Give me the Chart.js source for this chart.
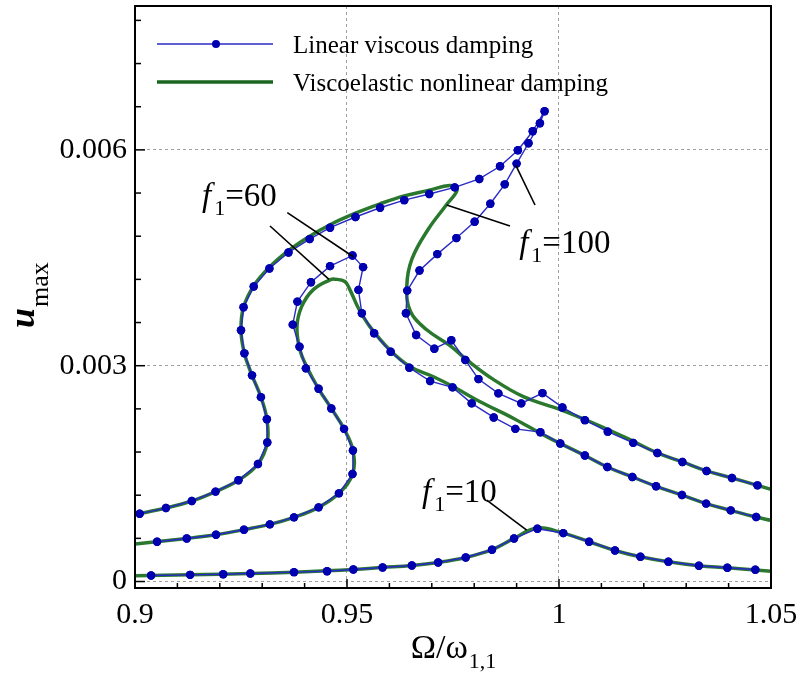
<!DOCTYPE html>
<html>
<head>
<meta charset="utf-8">
<script src="https://cdn.jsdelivr.net/npm/chart.js@4.4.1/dist/chart.umd.min.js"></script>
<style>
html, body { margin: 0; padding: 0; background: #fff; }
#c { display: block; }
</style>
</head>
<body>
<canvas id="c" width="801" height="679"></canvas>
<script>
"use strict"

// ---- data ----
const xTickValues = [0.9, 0.95, 1, 1.05];
const xTickLabels = ["0.9", "0.95", "1", "1.05"];
const yTickValues = [0, 0.003, 0.006];
const yTickLabels = ["0", "0.003", "0.006"];

const seriesNames = ["Linear viscous damping", "Viscoelastic nonlinear damping"];

// linear viscous damping (dots)
const blue10X = [0.9038, 0.9130, 0.9208, 0.9272, 0.9375, 0.9453, 0.9515, 0.9584, 0.9653, 0.9715, 0.9780, 0.9842, 0.9894, 0.9949, 1.0010, 1.0071, 1.0132, 1.0192, 1.0258, 1.0330, 1.0397, 1.0463];
const blue10Y = [0.000084, 0.000093, 0.000102, 0.000111, 0.000130, 0.000143, 0.000167, 0.000195, 0.000223, 0.000265, 0.000334, 0.000442, 0.000599, 0.000734, 0.000673, 0.000553, 0.000432, 0.000344, 0.000274, 0.000219, 0.000191, 0.000163];

const blue60X = [0.9052, 0.9122, 0.9191, 0.9257, 0.9318, 0.9375, 0.9433, 0.9481, 0.9513, 0.9514, 0.9493, 0.9463, 0.9433, 0.9403, 0.9388, 0.9372, 0.9383, 0.9415, 0.9460, 0.9513, 0.9538, 0.9527, 0.9535, 0.9564, 0.9603, 0.9647, 0.9696, 0.9749, 0.9794, 0.9846, 0.9897, 0.9956, 1.0003, 1.0061, 1.0114, 1.0173, 1.0229, 1.0290, 1.0347, 1.0405, 1.0465];
const blue60Y = [0.000553, 0.000599, 0.000651, 0.000720, 0.000794, 0.000892, 0.001031, 0.001226, 0.001495, 0.001821, 0.002122, 0.002406, 0.002679, 0.002963, 0.003264, 0.003571, 0.003891, 0.004161, 0.004384, 0.004532, 0.004370, 0.004054, 0.003729, 0.003451, 0.003194, 0.002972, 0.002786, 0.002699, 0.002476, 0.002281, 0.002122, 0.002076, 0.001918, 0.001751, 0.001592, 0.001453, 0.001324, 0.001202, 0.001083, 0.000989, 0.000896];

const blue100X = [0.9011, 0.9073, 0.9134, 0.9190, 0.9244, 0.9290, 0.9312, 0.9311, 0.9297, 0.9276, 0.9258, 0.9250, 0.9256, 0.9280, 0.9317, 0.9362, 0.9412, 0.9460, 0.9520, 0.9578, 0.9635, 0.9694, 0.9754, 0.9812, 0.9861, 0.9903, 0.9938, 0.9966, 0.9955, 0.9928, 0.9900, 0.9872, 0.9838, 0.9801, 0.9758, 0.9713, 0.9671, 0.9642, 0.9639, 0.9663, 0.9706, 0.9746, 0.9779, 0.9810, 0.9857, 0.9911, 0.9961, 1.0008, 1.0061, 1.0115, 1.0175, 1.0232, 1.0291, 1.0348, 1.0408, 1.0468];
const blue100Y = [0.000943, 0.001021, 0.001119, 0.001250, 0.001407, 0.001634, 0.001932, 0.002257, 0.002563, 0.002866, 0.003172, 0.003493, 0.003813, 0.004100, 0.004351, 0.004574, 0.004760, 0.004918, 0.005067, 0.005196, 0.005301, 0.005387, 0.005479, 0.005596, 0.005772, 0.005995, 0.006259, 0.006538, 0.006371, 0.006092, 0.005809, 0.005521, 0.005252, 0.005001, 0.004774, 0.004551, 0.004323, 0.004044, 0.003729, 0.003427, 0.003236, 0.003353, 0.003079, 0.002814, 0.002615, 0.002476, 0.002619, 0.002420, 0.002243, 0.002083, 0.001927, 0.001787, 0.001662, 0.001537, 0.001439, 0.001337];

// viscoelastic nonlinear damping (smooth lines)
const green10X = [0.9000, 0.9130, 0.9272, 0.9375, 0.9515, 0.9584, 0.9653, 0.9715, 0.9780, 0.9842, 0.9894, 0.9948, 1.0010, 1.0071, 1.0132, 1.0192, 1.0258, 1.0330, 1.0397, 1.0500];
const green10Y = [0.000080, 0.000093, 0.000111, 0.000130, 0.000167, 0.000195, 0.000223, 0.000265, 0.000334, 0.000442, 0.000599, 0.000745, 0.000673, 0.000553, 0.000432, 0.000344, 0.000274, 0.000219, 0.000191, 0.000143];

const green60X = [0.9000, 0.9122, 0.9191, 0.9257, 0.9318, 0.9375, 0.9433, 0.9481, 0.9513, 0.9514, 0.9493, 0.9463, 0.9433, 0.9405, 0.9389, 0.9382, 0.9393, 0.9420, 0.9460, 0.9471, 0.9495, 0.9507, 0.9527, 0.9554, 0.9601, 0.9649, 0.9704, 0.9751, 0.9814, 0.9893, 0.9972, 1.0061, 1.0114, 1.0173, 1.0229, 1.0290, 1.0347, 1.0405, 1.0465, 1.0500];
const green60Y = [0.000520, 0.000599, 0.000651, 0.000720, 0.000794, 0.000892, 0.001031, 0.001226, 0.001495, 0.001821, 0.002122, 0.002406, 0.002679, 0.002986, 0.003218, 0.003543, 0.003821, 0.004054, 0.004193, 0.004203, 0.004170, 0.004054, 0.003799, 0.003543, 0.003218, 0.002986, 0.002846, 0.002707, 0.002498, 0.002267, 0.002010, 0.001751, 0.001592, 0.001453, 0.001324, 0.001202, 0.001083, 0.000989, 0.000896, 0.000850];

const green100X = [0.9000, 0.9073, 0.9134, 0.9190, 0.9244, 0.9290, 0.9312, 0.9311, 0.9297, 0.9276, 0.9258, 0.9250, 0.9256, 0.9280, 0.9317, 0.9362, 0.9412, 0.9460, 0.9520, 0.9578, 0.9635, 0.9694, 0.9742, 0.9760, 0.9735, 0.9692, 0.9653, 0.9641, 0.9650, 0.9688, 0.9743, 0.9783, 0.9845, 0.9916, 1.0003, 1.0082, 1.0161, 1.0232, 1.0291, 1.0348, 1.0408, 1.0468, 1.0500];
const green100Y = [0.000930, 0.001021, 0.001119, 0.001250, 0.001407, 0.001634, 0.001932, 0.002257, 0.002563, 0.002866, 0.003172, 0.003493, 0.003813, 0.004110, 0.004370, 0.004600, 0.004800, 0.004960, 0.005120, 0.005250, 0.005360, 0.005440, 0.005505, 0.005450, 0.005240, 0.004900, 0.004480, 0.004100, 0.003750, 0.003500, 0.003280, 0.003080, 0.002810, 0.002570, 0.002390, 0.002200, 0.001990, 0.001787, 0.001662, 0.001537, 0.001439, 0.001337, 0.001282];

// f1 labels and their leader lines (data coordinates)
const forceLabels = ["60", "100", "10"];
const forceLabelX = [0.9158, 0.9906, 0.9677];
const forceLabelY = [0.005220, 0.004566, 0.001109];
const leaderX1 = [0.93592, 0.93184, 0.98844, 0.99434, 0.98295];
const leaderY1 = [0.005127, 0.004942, 0.004942, 0.005234, 0.001133];
const leaderX2 = [0.95149, 0.94575, 0.97351, 0.98979, 0.99238];
const leaderY2 = [0.004515, 0.004201, 0.005234, 0.005789, 0.000716];

// ---- styles ----
const SERIF = "'Liberation Serif', 'Times New Roman', serif";
const BLUE_LINE = "#2a2ac4";
const BLUE_DOT = "#0000b0";
const GREEN = "#2a782e";

function pts(xs, ys) {
    return xs.map((x, i) => ({ x: x, y: ys[i] }));
}

function blueSet(xs, ys) {
    return {
        data: pts(xs, ys),
        showLine: true,
        borderColor: BLUE_LINE,
        borderWidth: 1.4,
        tension: 0,
        pointRadius: 4.2,
        pointBackgroundColor: BLUE_DOT,
        pointBorderWidth: 0
    };
}

function greenSet(xs, ys) {
    return {
        data: pts(xs, ys),
        showLine: true,
        borderColor: GREEN,
        borderWidth: 3.5,
        tension: 0.4,
        pointRadius: 0
    };
}

function line(ctx, x1, y1, x2, y2) {
    ctx.beginPath();
    ctx.moveTo(x1, y1);
    ctx.lineTo(x2, y2);
    ctx.stroke();
}

const decor = {
    id: "decor",
    afterDatasetsDraw(chart) {
        // dots drawn again so they sit above the green curves
        const ctx = chart.ctx;
        for (let d = 0; d < 3; d++) {
            chart.getDatasetMeta(d).data.forEach(p => p.draw(ctx, chart.chartArea));
        }
    },
    afterDraw(chart) {
        const ctx = chart.ctx;
        const a = chart.chartArea;
        const sx = chart.scales.x, sy = chart.scales.y;
        ctx.save();

        // inward ticks
        ctx.strokeStyle = "#000";
        ctx.lineWidth = 1.5;
        for (let i = 1; i < 15; i++) {
            const px = sx.getPixelForValue(0.9 + i * 0.01);
            line(ctx, px, a.bottom, px, a.bottom - (i % 5 === 0 ? 9 : 5));
        }
        for (let i = 0; i <= 13; i++) {
            const py = sy.getPixelForValue(i * 0.0006);
            line(ctx, a.left, py, a.left + (i % 5 === 0 ? 10 : 6), py);
        }

        // frame
        ctx.lineWidth = 2;
        ctx.strokeRect(a.left, a.top, a.right - a.left, a.bottom - a.top);

        // leader lines
        ctx.lineWidth = 1.6;
        for (let i = 0; i < leaderX1.length; i++) {
            line(ctx, sx.getPixelForValue(leaderX1[i]), sy.getPixelForValue(leaderY1[i]),
                 sx.getPixelForValue(leaderX2[i]), sy.getPixelForValue(leaderY2[i]));
        }

        // f1 labels
        ctx.fillStyle = "#000";
        ctx.textBaseline = "alphabetic";
        ctx.textAlign = "left";
        for (let i = 0; i < forceLabels.length; i++) {
            let x = sx.getPixelForValue(forceLabelX[i]);
            const y = sy.getPixelForValue(forceLabelY[i]);
            ctx.font = "italic 33px " + SERIF;
            ctx.fillText("f", x, y);
            x += ctx.measureText("f").width + 3;
            ctx.font = "22px " + SERIF;
            ctx.fillText("1", x, y + 9);
            x += ctx.measureText("1").width;
            ctx.font = "33px " + SERIF;
            ctx.fillText("=" + forceLabels[i], x, y);
        }

        // x title: Ω/ω_{1,1}
        ctx.font = "34px " + SERIF;
        const mainW = ctx.measureText("Ω/ω").width;
        ctx.font = "22px " + SERIF;
        const subW = ctx.measureText("1,1").width;
        let tx = (a.left + a.right) / 2 - (mainW + subW) / 2;
        ctx.font = "34px " + SERIF;
        ctx.fillText("Ω/ω", tx, 658);
        ctx.font = "22px " + SERIF;
        ctx.fillText("1,1", tx + mainW + 1, 668);

        // y title: u_max, rotated
        ctx.save();
        ctx.translate(34, 328);
        ctx.rotate(-Math.PI / 2);
        ctx.font = "italic bold 36px " + SERIF;
        ctx.fillText("u", 0, 0);
        const uW = ctx.measureText("u").width;
        ctx.font = "26px " + SERIF;
        ctx.fillText("max", uW + 1, 14);
        ctx.restore();

        // legend
        ctx.strokeStyle = BLUE_LINE;
        ctx.lineWidth = 1.4;
        line(ctx, 157, 44, 273, 44);
        ctx.fillStyle = BLUE_DOT;
        ctx.beginPath();
        ctx.arc(216, 44, 4, 0, Math.PI * 2);
        ctx.fill();
        ctx.strokeStyle = "#1a661e";
        ctx.lineWidth = 3.5;
        line(ctx, 157, 82, 273, 82);
        ctx.fillStyle = "#000";
        ctx.font = "25px " + SERIF;
        ctx.fillText(seriesNames[0], 293, 53);
        ctx.fillText(seriesNames[1], 293, 91);

        ctx.restore();
    }
};

new Chart(document.getElementById("c"), {
    type: "scatter",
    data: {
        datasets: [
            blueSet(blue10X, blue10Y),
            blueSet(blue60X, blue60Y),
            blueSet(blue100X, blue100Y),
            greenSet(green10X, green10Y),
            greenSet(green60X, green60Y),
            greenSet(green100X, green100Y)
        ]
    },
    options: {
        responsive: false,
        animation: false,
        events: [],
        layout: { padding: { left: 0, top: 6, right: 30, bottom: 0 } },
        plugins: { legend: { display: false }, tooltip: { enabled: false } },
        scales: {
            x: {
                type: "linear",
                min: 0.9,
                max: 1.05,
                afterBuildTicks: s => { s.ticks = xTickValues.map(v => ({ value: v })); },
                afterFit: s => { s.height = 91; s.paddingLeft = 0; s.paddingRight = 0; },
                ticks: {
                    callback: (v, i) => xTickLabels[i],
                    font: { family: SERIF, size: 30 },
                    color: "#000",
                    padding: 9,
                    maxRotation: 0
                },
                grid: {
                    drawTicks: false,
                    color: c => (c.tick && (c.tick.value === 0.9 || c.tick.value === 1.05)) ? "rgba(0,0,0,0)" : "#a0a0a0",
                    lineWidth: 1
                },
                border: { display: false, dash: [3, 3] }
            },
            y: {
                type: "linear",
                min: -0.00009,
                max: 0.008,
                afterBuildTicks: s => { s.ticks = yTickValues.map(v => ({ value: v })); },
                afterFit: s => { s.width = 135; s.paddingTop = 0; s.paddingBottom = 0; },
                ticks: {
                    callback: (v, i) => yTickLabels[i],
                    font: { family: SERIF, size: 30 },
                    color: "#000",
                    padding: 8
                },
                grid: {
                    drawTicks: false,
                    color: "#a0a0a0",
                    lineWidth: 1
                },
                border: { display: false, dash: [3, 3] }
            }
        }
    },
    plugins: [decor]
});
</script>
</body>
</html>
